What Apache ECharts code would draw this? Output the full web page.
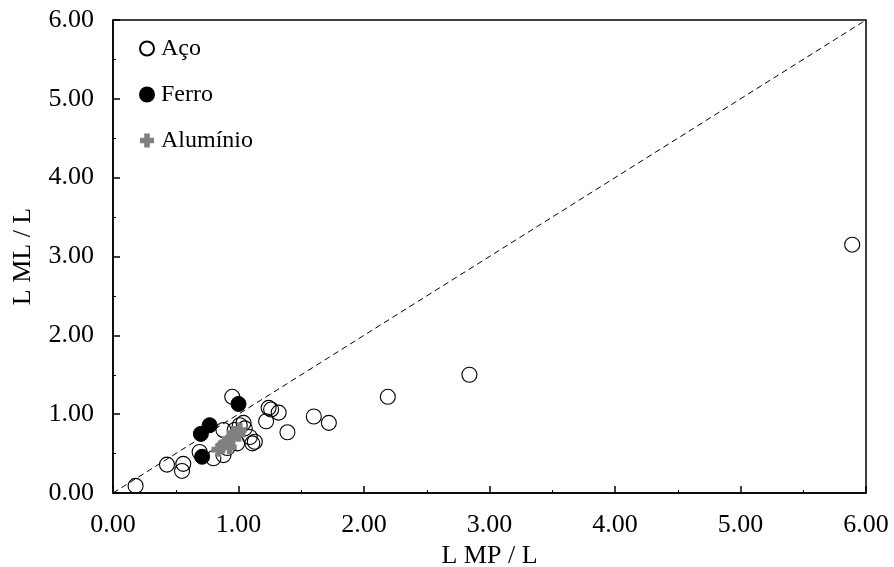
<!DOCTYPE html>
<html>
<head>
<meta charset="utf-8">
<script src="https://cdn.jsdelivr.net/npm/echarts@6/dist/echarts.min.js"></script>
<style>
  html, body { margin: 0; padding: 0; background: #fff; }
  #chart { width: 894px; height: 567px; }
</style>
</head>
<body>
<div id="chart"></div>
<script>
// values: [L MP / L, L ML / L]
const aco = [
  [0.18, 0.09], [0.43, 0.36], [0.56, 0.37], [0.55, 0.28],
  [0.69, 0.52], [0.80, 0.44], [0.88, 0.80], [0.95, 1.22],
  [0.97, 0.80], [1.01, 0.86], [1.04, 0.89], [1.05, 0.82],
  [1.09, 0.71], [1.13, 0.65], [1.11, 0.63], [0.99, 0.63],
  [0.91, 0.57], [0.88, 0.48], [1.24, 1.08], [1.26, 1.06],
  [1.32, 1.02], [1.22, 0.91], [1.39, 0.77], [1.60, 0.97],
  [1.72, 0.89], [2.19, 1.22], [2.84, 1.50], [5.89, 3.15]
];
const ferro = [
  [0.70, 0.75], [0.77, 0.86], [0.71, 0.46], [1.00, 1.13]
];
const aluminio = [
  [0.84, 0.55], [0.87, 0.59], [0.89, 0.63], [0.92, 0.65],
  [0.95, 0.70], [0.96, 0.76], [1.00, 0.74], [1.01, 0.80],
  [0.93, 0.58]
];
const diagonal = [[0, 0], [6, 6]];

const FONT = 'Liberation Serif';
const PLUS = 'path://M3,0h4v3h3v4h-3v3h-4v-3h-3v-4h3z';

const chart = echarts.init(document.getElementById('chart'), null, { renderer: 'canvas' });

function axis(name, gap, labelMargin) {
  return {
    type: 'value',
    min: 0, max: 6, interval: 1,
    name,
    nameLocation: 'middle',
    nameGap: gap,
    nameTextStyle: { fontFamily: FONT, fontSize: 26, color: '#000' },
    axisLine: { show: true, lineStyle: { color: '#000', width: 1.5 } },
    axisTick: { show: true, inside: true, length: 7, lineStyle: { color: '#000', width: 1.5 } },
    minorTick: { show: true, splitNumber: 2, length: 3, lineStyle: { color: '#000', width: 1 } },
    splitLine: { show: false },
    axisLabel: {
      fontFamily: FONT, fontSize: 26, color: '#000', margin: labelMargin,
      formatter: v => v.toFixed(2)
    }
  };
}

chart.setOption({
  backgroundColor: '#fff',
  animation: false,
  grid: {
    left: 113, right: 28, top: 20, bottom: 74,
    outerBoundsMode: 'none',
    containLabel: false,
    show: true, borderColor: '#000', borderWidth: 1.5
  },
  legend: {
    orient: 'vertical',
    left: 134, top: 31,
    itemGap: 21,
    itemWidth: 14, itemHeight: 14,
    textStyle: { fontFamily: FONT, fontSize: 24, lineHeight: 25, color: '#000', padding: [0, 0, 0, 2] },
    data: ['Aço', 'Ferro', 'Alumínio']
  },
  xAxis: axis('L MP / L', 47, 19),
  yAxis: axis('L ML / L', 77, 19),
  series: [
    {
      name: 'diag',
      type: 'line',
      data: diagonal,
      symbol: 'none',
      silent: true,
      lineStyle: { color: '#000', width: 1, type: [6, 4] },
      z: 1
    },
    {
      name: 'Aço',
      type: 'scatter',
      data: aco,
      symbol: 'circle',
      symbolSize: 15,
      itemStyle: { color: 'rgba(255,255,255,0)', borderColor: '#000', borderWidth: 1.1, opacity: 1 },
      z: 3
    },
    {
      name: 'Ferro',
      type: 'scatter',
      data: ferro,
      symbol: 'circle',
      symbolSize: 15,
      itemStyle: { color: '#000', borderColor: '#000', borderWidth: 1, opacity: 1 },
      z: 4
    },
    {
      name: 'Alumínio',
      type: 'scatter',
      data: aluminio,
      symbol: PLUS,
      symbolSize: 14,
      itemStyle: { color: '#808080', opacity: 1 },
      z: 5
    }
  ]
});
</script>
</body>
</html>
